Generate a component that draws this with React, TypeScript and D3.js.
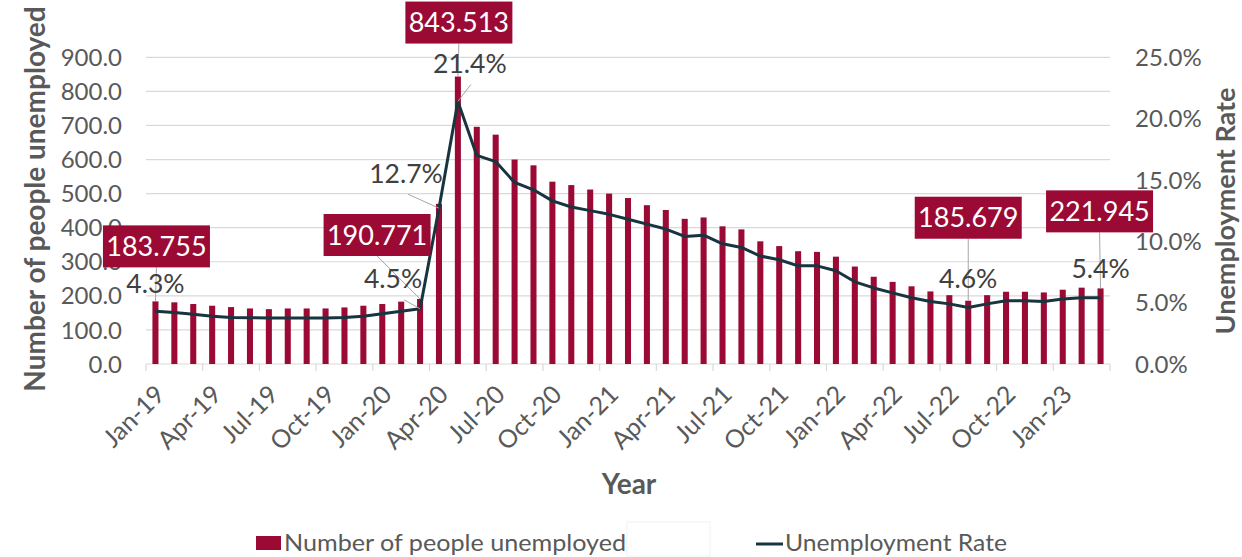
import React from "react";
import * as d3 from "d3";

const months = ["Jan", "Feb", "Mar", "Apr", "May", "Jun", "Jul", "Aug", "Sep", "Oct", "Nov", "Dec"];
const categories: string[] = [];
for (let y = 19; y <= 23; y++) {
  for (let m = 0; m < 12; m++) {
    if (y === 23 && m > 2) break;
    categories.push(`${months[m]}-${y}`);
  }
}

const unemployed = [
  183.755, 181, 176, 171, 167, 163, 161, 163, 163, 163, 166, 171, 176, 183, 190.771,
  470, 843.513, 696, 673, 600, 583, 535, 525, 512, 500,
  487, 466, 452, 426, 430, 404, 395, 360, 346, 331,
  329, 315, 286, 256, 241, 228, 213, 202, 185.679, 202,
  212, 212, 210, 218, 224, 221.945,
];

const rate = [
  4.3, 4.2, 4.05, 3.9, 3.8, 3.78, 3.75, 3.75, 3.75, 3.75, 3.8, 3.9, 4.1, 4.3, 4.5,
  12.7, 21.4, 17.0, 16.5, 14.8, 14.2, 13.3, 12.8, 12.5, 12.2,
  11.8, 11.4, 11.0, 10.4, 10.5, 9.8, 9.5, 8.8, 8.5, 8.0,
  8.0, 7.6, 6.7, 6.2, 5.8, 5.4, 5.1, 4.9, 4.6, 4.9,
  5.15, 5.15, 5.1, 5.3, 5.4, 5.4,
];

const leftTicks = [0, 100, 200, 300, 400, 500, 600, 700, 800, 900];
const rightTicks = [0, 5, 10, 15, 20, 25];

// annotation layout (offsets relative to the data point)
const barLabels = [
  { i: 0, dx: 1, gap: 34 },
  { i: 14, dx: -43, gap: 43 },
  { i: 16, dx: 1, gap: 33 },
  { i: 43, dx: 0, gap: 62 },
  { i: 50, dx: -1, gap: 56 },
];
const rateLabels = [
  { i: 0, dx: 0, dy: -18, lead: null as null | [number, number] },
  { i: 14, dx: -27, dy: -21, lead: [-16, -9] as [number, number] },
  { i: 15, dx: -33, dy: -25, lead: [-31, -14] as [number, number] },
  { i: 16, dx: 12, dy: -28, lead: [13, -17] as [number, number] },
  { i: 43, dx: 0, dy: -20, lead: null },
  { i: 50, dx: 0, dy: -20, lead: null },
];

const W = 1242;
const H = 557;
const X0 = 146;
const X1 = 1110;
const Y0 = 364;
const Y1 = 57.3;

const BAR = "#9B0A34";
const LINE = "#17343F";
const GRID = "#D9D9D9";
const TXT = "#595959";
const FONT = "Lato, 'Open Sans', sans-serif";

export default function App() {
  const x = d3.scaleBand<string>().domain(categories).range([X0, X1]).paddingInner(0.68).paddingOuter(0.34);
  const step = x.step();
  const cx = (i: number) => (x(categories[i]) as number) + x.bandwidth() / 2;
  const yL = d3.scaleLinear().domain([0, 900]).range([Y0, Y1]);
  const yR = d3.scaleLinear().domain([0, 25]).range([Y0, Y1]);

  const line = d3
    .line<number>()
    .x((_, i) => cx(i))
    .y((d) => yR(d));

  const tickIdx = categories.map((_, i) => i).filter((i) => i % 3 === 0);
  const boundaries = d3.range(0, categories.length + 1, 3);

  return (
    <svg width={W} height={H} style={{ position: "absolute", left: 0, top: 0, background: "#fff" }} fontFamily={FONT}>
      {/* gridlines */}
      {leftTicks.slice(1).map((t) => (
        <line key={t} x1={X0} x2={X1} y1={yL(t)} y2={yL(t)} stroke={GRID} strokeWidth={1.2} />
      ))}
      {/* bottom axis */}
      <line x1={X0} x2={X1} y1={Y0} y2={Y0} stroke={GRID} strokeWidth={1.2} />
      {boundaries.map((b) => (
        <line key={b} x1={X0 + b * step} x2={X0 + b * step} y1={Y0} y2={Y0 + 7} stroke={GRID} strokeWidth={1.2} />
      ))}
      {/* bars */}
      {unemployed.map((v, i) => (
        <rect key={i} x={x(categories[i])} y={yL(v)} width={x.bandwidth()} height={Y0 - yL(v)} fill={BAR} />
      ))}
      {/* line */}
      <path d={line(rate) as string} fill="none" stroke={LINE} strokeWidth={3} strokeLinejoin="round" />

      {/* left tick labels */}
      {leftTicks.map((t) => (
        <text key={t} x={122} y={yL(t)} dy="0.36em" textAnchor="end" fontSize={24} fill={TXT}>
          {t.toFixed(1)}
        </text>
      ))}
      {/* right tick labels */}
      {rightTicks.map((t) => (
        <text key={t} x={1135} y={yR(t)} dy="0.36em" textAnchor="start" fontSize={24} fill={TXT}>
          {t.toFixed(1)}%
        </text>
      ))}
      {/* x tick labels */}
      {tickIdx.map((i) => (
        <text
          key={i}
          transform={`translate(${cx(i) - 1.5},${Y0 + 19.5}) rotate(-45)`}
          textAnchor="end"
          dy="0.7em"
          fontSize={25}
          fill={TXT}
        >
          {categories[i]}
        </text>
      ))}

      {/* leader lines + bar labels */}
      {barLabels.map((b) => {
        const px = cx(b.i);
        const py = yL(unemployed[b.i]);
        const bx = px + b.dx;
        const bottom = py - b.gap;
        const bw = 107;
        const bh = 42;
        return (
          <g key={"b" + b.i}>
            <line x1={bx} y1={bottom} x2={px} y2={py} stroke="#A6A6A6" strokeWidth={1} />
            <rect x={bx - bw / 2} y={bottom - bh} width={bw} height={bh} fill={BAR} />
            <text x={bx} y={bottom - bh / 2} dy="0.36em" textAnchor="middle" fontSize={27} fill="#fff">
              {unemployed[b.i].toFixed(3)}
            </text>
          </g>
        );
      })}
      {rateLabels.map((r) => {
        const px = cx(r.i);
        const py = yR(rate[r.i]);
        return (
          <g key={"r" + r.i}>
            {r.lead && (
              <line x1={px + r.lead[0]} y1={py + r.lead[1]} x2={px} y2={py} stroke="#A6A6A6" strokeWidth={1} />
            )}
            <text x={px + r.dx} y={py + r.dy} textAnchor="middle" fontSize={26.5} fill="#404040">
              {rate[r.i].toFixed(1)}%
            </text>
          </g>
        );
      })}

      {/* axis titles */}
      <text
        transform={`translate(34,199) rotate(-90)`}
        textAnchor="middle"
        dominantBaseline="central"
        fontSize={28}
        fontWeight={700}
        fill={TXT}
      >
        Number of people unemployed
      </text>
      <text
        transform={`translate(1224,211) rotate(-90)`}
        textAnchor="middle"
        dominantBaseline="central"
        fontSize={27}
        fontWeight={700}
        fill={TXT}
      >
        Unemployment Rate
      </text>
      <text x={629} y={494} textAnchor="middle" fontSize={28} fontWeight={700} fill={TXT}>
        Year
      </text>

      {/* legend */}
      <rect x={256} y={536} width={25} height={14} fill={BAR} />
      <text x={284} y={551} fontSize={24} fill={TXT} textLength={342} lengthAdjust="spacingAndGlyphs">
        Number of people unemployed
      </text>
      <rect x={627} y={522} width={83} height={34} fill="none" stroke="#F2F2F2" strokeWidth={1} />
      <line x1={756} x2={783} y1={544} y2={544} stroke={LINE} strokeWidth={3} />
      <text x={785} y={551} fontSize={24} fill={TXT} textLength={222} lengthAdjust="spacingAndGlyphs">
        Unemployment Rate
      </text>
    </svg>
  );
}
